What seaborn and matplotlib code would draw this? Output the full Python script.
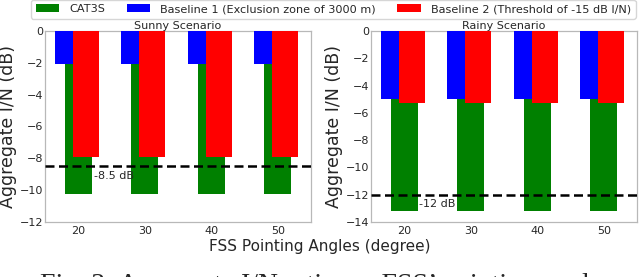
import matplotlib
matplotlib.use("Agg")
import matplotlib.pyplot as plt
import seaborn as sns
import pandas as pd
import numpy as np

# ---- data ----
angles = [20, 30, 40, 50]
series_names = ["CAT3S", "Baseline 1 (Exclusion zone of 3000 m)", "Baseline 2 (Threshold of -15 dB I/N)"]
sunny_cat3s = [-10.25, -10.25, -10.25, -10.25]
sunny_base1 = [-2.1, -2.1, -2.1, -2.1]
sunny_base2 = [-7.9, -7.9, -7.9, -7.9]
rainy_cat3s = [-13.2, -13.2, -13.2, -13.2]
rainy_base1 = [-5.0, -5.0, -5.0, -5.0]
rainy_base2 = [-5.3, -5.3, -5.3, -5.3]
sunny_threshold = -8.5
rainy_threshold = -12.0
sunny_label = "-8.5 dB"
rainy_label = "-12 dB"
titles = ["Sunny Scenario", "Rainy Scenario"]
colors = ["green", "blue", "red"]

sns.set_style("whitegrid")
plt.rcParams['font.family'] = ['DejaVu Sans']

fig = plt.figure(figsize=(6.4, 2.77), dpi=100)
W, H = 640, 277
def ax_rect(x0, x1, ytop, ybot):
    return [x0 / W, 1 - ybot / H, (x1 - x0) / W, (ybot - ytop) / H]

ax1 = fig.add_axes(ax_rect(45, 311, 31, 222))
ax2 = fig.add_axes(ax_rect(371, 637, 31, 222))

# offsets (units) and widths (relative to spacing of 10) for each series
offsets = [0.0, -2.15, 1.15]
widths = [0.40, 0.27, 0.39]

panels = [
    (ax1, [sunny_cat3s, sunny_base1, sunny_base2], sunny_threshold, sunny_label, (-12, 0), np.arange(-12, 1, 2), (22.4, -9.1)),
    (ax2, [rainy_cat3s, rainy_base1, rainy_base2], rainy_threshold, rainy_label, (-14, 0), np.arange(-14, 1, 2), (22.2, -12.7)),
]

for i, (ax, vals, thr, lab, ylim, yt, txy) in enumerate(panels):
    for s, (v, c, off, w) in enumerate(zip(vals, colors, offsets, widths)):
        df = pd.DataFrame({"x": [a + off for a in angles], "y": v})
        sns.barplot(data=df, x="x", y="y", native_scale=True, width=w,
                    color=c, saturation=1, errorbar=None, linewidth=0,
                    ax=ax, label=series_names[s] if i == 0 else None, zorder=2 + s)
    ax.axhline(thr, color="black", linestyle=(0, (3.6, 1.8)), linewidth=1.8, zorder=10)
    ax.text(txy[0], txy[1], lab, fontsize=8, va="center", ha="left", zorder=11)
    ax.set_xlim(15, 55)
    ax.set_ylim(*ylim)
    ax.set_xticks(angles)
    ax.set_xticklabels([str(a) for a in angles])
    ax.set_yticks(yt)
    ax.grid(False)
    ax.tick_params(axis="both", labelsize=8, length=0)
    ax.tick_params(axis="y", pad=1.2)
    ax.tick_params(axis="x", pad=3)
    ax.set_xlabel("")
    ax.set_ylabel("Aggregate I/N (dB)", fontsize=12.5, labelpad=2)
    ax.set_title(titles[i], fontsize=8, pad=1.5)
    for sp in ax.spines.values():
        sp.set_edgecolor("#b8b8b8")
        sp.set_linewidth(0.9)
    leg = ax.get_legend()
    if leg is not None:
        leg.remove()

fig.text(320 / W, 1 - 246 / H, "FSS Pointing Angles (degree)", fontsize=11, ha="center", va="center")

handles, labels = ax1.get_legend_handles_labels()
fig.legend(handles, labels, loc="lower left", bbox_to_anchor=(31 / W, 1 - 18.5 / H),
           bbox_transform=fig.transFigure, ncol=3, fontsize=8.1, borderaxespad=0,
           handlelength=2.1, handletextpad=0.9, columnspacing=1.9, frameon=True)

fig.text(40 / W, -0.0555, "Fig. 3: Aggregate I/N ratio vs. FSS\u2019 pointing angles",
         fontsize=20, family=["Liberation Serif", "DejaVu Serif"], ha="left", va="baseline")

fig.savefig("out.png", dpi=100)
